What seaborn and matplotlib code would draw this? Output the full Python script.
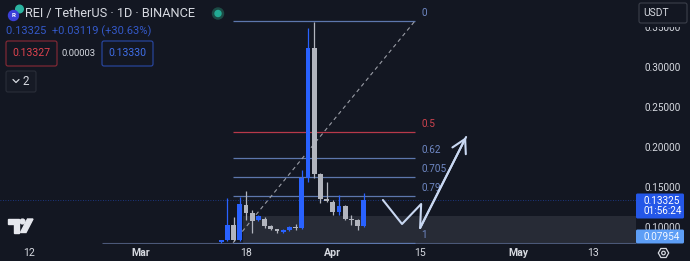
import numpy as np
import pandas as pd
import matplotlib
matplotlib.use("Agg")
import matplotlib.pyplot as plt
import matplotlib.dates as mdates
import seaborn as sns
from matplotlib.patches import FancyBboxPatch, Circle, Polygon, Rectangle, RegularPolygon

# ---------------- data ----------------
dates = pd.date_range("2024-03-14", periods=24, freq="D")
opens  = [0.0815, 0.0835, 0.1025, 0.0838, 0.1275, 0.1175, 0.1088, 0.1100, 0.1013, 0.0975, 0.0938, 0.0963,
          0.1000, 0.0988, 0.1613, 0.3241, 0.1663, 0.1350, 0.1313, 0.1188, 0.1263, 0.1100, 0.1088, 0.1013]
highs  = [0.0840, 0.1362, 0.1125, 0.1375, 0.1450, 0.1213, 0.1150, 0.1125, 0.1025, 0.0980, 0.0970, 0.1010,
          0.1038, 0.1713, 0.3490, 0.3566, 0.1675, 0.1563, 0.1338, 0.1400, 0.1275, 0.1150, 0.1100, 0.1425]
lows   = [0.0805, 0.0830, 0.0825, 0.0830, 0.1088, 0.0925, 0.1070, 0.0988, 0.0963, 0.0925, 0.0930, 0.0955,
          0.0963, 0.0975, 0.1563, 0.1613, 0.1300, 0.1313, 0.1150, 0.1150, 0.1088, 0.1025, 0.0963, 0.1000]
closes = [0.0835, 0.1025, 0.0838, 0.1288, 0.1175, 0.1075, 0.1138, 0.1013, 0.0975, 0.0945, 0.0963, 0.1000,
          0.0988, 0.1613, 0.3241, 0.1663, 0.1350, 0.1325, 0.1188, 0.1263, 0.1100, 0.1088, 0.1013, 0.13325]

fib_levels = [0, 0.5, 0.62, 0.705, 0.79, 1]
fib_labels = ["0", "0.5", "0.62", "0.705", "0.79", "1"]
fib_high, fib_low = 0.3575, 0.0804
fib_start, fib_end = "2024-03-15 22:00", "2024-04-14 06:00"

path_dates = pd.to_datetime(["2024-04-09 02:00", "2024-04-12 04:00", "2024-04-15 06:00",
                             "2024-04-15 02:00", "2024-04-22 12:00"])
path_prices = [0.13375, 0.10375, 0.12875, 0.09875, 0.2125]

box_start, box_end = "2024-03-17 12:00", "2024-05-19 22:00"
box_low, box_high = 0.0804, 0.1138
line_start = "2024-02-23 18:00"
last_price = 0.13325

yticks = [0.10, 0.15, 0.20, 0.25, 0.30, 0.35]
xtick_dates = ["2024-02-12", "2024-03-01", "2024-03-18", "2024-04-01", "2024-04-15", "2024-05-01", "2024-05-13"]
xtick_labels = ["12", "Mar", "18", "Apr", "15", "May", "13"]
bold_labels = {"Mar", "Apr", "May"}

# ---------------- style ----------------
BG = "#131722"
UP = "#2962FF"
DOWN = "#b2b5be"
TXT = "#d6d9e0"
FIB = "#5d77ad"
FIBRED = "#b8394a"

sns.set_theme(style="dark", rc={"axes.facecolor": BG, "figure.facecolor": BG})
plt.rcParams["font.family"] = ["Roboto", "DejaVu Sans"]

fig = plt.figure(figsize=(6.9, 2.61), dpi=100)
ax = fig.add_axes([0, 17 / 261, 640 / 690, 244 / 261])
ax.set_facecolor(BG)

x_ref = mdates.date2num(pd.Timestamp("2024-03-18"))
ppd = 6.2
ax.set_xlim(x_ref - 246 / ppd, x_ref + (640 - 246) / ppd)
ax.set_ylim(0.07875, 0.38375)

# box & lines
bx0 = mdates.date2num(pd.Timestamp(box_start))
bx1 = mdates.date2num(pd.Timestamp(box_end))
ax.add_patch(Rectangle((bx0, box_low), bx1 - bx0, box_high - box_low,
                       facecolor="#2a2e39", edgecolor="none", alpha=0.9, zorder=1))
ax.hlines(box_low, mdates.date2num(pd.Timestamp(line_start)), bx1, color="#4b5878", lw=0.8, zorder=1.5)
ax.axhline(last_price, color=UP, lw=0.6, ls=(0, (1, 2)), alpha=0.55, zorder=1.2)

# fib
f0 = mdates.date2num(pd.Timestamp(fib_start))
f1 = mdates.date2num(pd.Timestamp(fib_end))
rng = fib_high - fib_low
for lvl, lab in zip(fib_levels, fib_labels):
    p = fib_high - lvl * rng
    col = FIBRED if lvl == 0.5 else FIB
    ax.hlines(p, f0, f1, color=col, lw=0.9, zorder=1.6)
    ax.annotate(lab, (f1, p), xytext=(4.5, 2.2), textcoords="offset points",
                color="#d0434f" if lvl == 0.5 else "#6f88c4", fontsize=7.2, va="bottom", ha="left")
ax.plot([f0, f1], [fib_low, fib_high], color="#9a9da6", lw=0.8, ls=(0, (3.5, 3)), zorder=1.7)

# candles
xs = mdates.date2num(dates)
cols = [UP if c >= o else DOWN for o, c in zip(opens, closes)]
ax.vlines(xs, lows, highs, colors=cols, lw=0.9, zorder=3)
lo_b = np.minimum(opens, closes)
hi_b = np.maximum(opens, closes)
h_b = np.maximum(hi_b - lo_b, 0.0012)
ax.bar(xs, h_b, bottom=lo_b, width=0.78, color=cols, edgecolor="none", zorder=4)

# arrow path
pdf = pd.DataFrame({"x": mdates.date2num(path_dates), "y": path_prices})
sns.lineplot(data=pdf, x="x", y="y", sort=False, color="#c9d8f2", lw=1.5, ax=ax, zorder=5)
ax.annotate("", xy=(pdf.x.iloc[-1], pdf.y.iloc[-1]), xytext=(pdf.x.iloc[-2], pdf.y.iloc[-2]),
            arrowprops=dict(arrowstyle="->,head_length=0.8,head_width=0.45", color="#c9d8f2", lw=1.5,
                            shrinkA=0, shrinkB=0), zorder=5)
ax.set_xlabel("")
ax.set_ylabel("")

# axes
ax.yaxis.tick_right()
ax.set_yticks(yticks)
ax.set_yticklabels([f"{v:.5f}" for v in yticks])
ax.set_xticks(mdates.date2num(pd.to_datetime(xtick_dates)))
ax.set_xticklabels(xtick_labels)
for t in ax.get_xticklabels():
    if t.get_text() in bold_labels:
        t.set_fontweight("bold")
ax.tick_params(axis="y", length=0, pad=3, labelcolor=TXT, labelsize=7.2)
ax.tick_params(axis="x", length=0, pad=3.0, labelcolor=TXT, labelsize=7.6)
for s in ax.spines.values():
    s.set_visible(False)
ax.grid(False)

# ---------------- overlay (UI) ----------------
ov = fig.add_axes([0, 0, 1, 1], zorder=10)
ov.set_xlim(0, 690)
ov.set_ylim(261, 0)
ov.axis("off")
ov.patch.set_alpha(0)

# logo
ov.add_patch(Circle((19.5, 9), 3.8, color="#2bb3a0"))
ov.add_patch(Circle((13.5, 15.5), 5, color="#3b40d8"))
ov.text(13.5, 15.8, "R", color="white", fontsize=4.5, ha="center", va="center", fontweight="bold")
ov.text(25, 14, "REI / TetherUS · 1D · BINANCE", color=TXT, fontsize=9.2, va="center", ha="left")
ov.add_patch(Circle((218, 13.5), 5.5, color="#1c4b45"))
ov.add_patch(Circle((218, 13.5), 3, color="#22ab94"))
ov.text(6, 31.5, "0.13325  +0.03119 (+30.63%)", color="#3459c9", fontsize=8.0, va="center", ha="left")

def rbox(x, y, w, h, ec, fc=BG, lw=0.8):
    ov.add_patch(FancyBboxPatch((x, y), w, h, boxstyle="round,pad=0,rounding_size=2",
                                facecolor=fc, edgecolor=ec, lw=lw))

rbox(6, 41, 51, 25, "#8a2a36")
ov.text(31.5, 53.5, "0.13327", color="#e0434f", fontsize=7.6, ha="center", va="center")
ov.text(79, 53.5, "0.00003", color=TXT, fontsize=6.8, ha="center", va="center")
rbox(102, 41, 51, 25, "#2a4aa8")
ov.text(127.5, 53.5, "0.13330", color="#3f6ee8", fontsize=7.6, ha="center", va="center")
rbox(6, 71, 30, 21, "#2a2e39", fc="#161a25")
ov.plot([13, 16, 19], [79.5, 82.5, 79.5], color=TXT, lw=0.9)
ov.text(26, 81.5, "2", color=TXT, fontsize=8.4, ha="center", va="center")

# USDT box (covers top of the 0.35 label)
ov.add_patch(Rectangle((638, 2), 50, 24.5, facecolor=BG, edgecolor="none"))
rbox(639, 3, 48, 20, "#3b3f4a")
ov.text(643, 13, "USDT", color=TXT, fontsize=7.4, ha="left", va="center")

# price labels
ov.add_patch(FancyBboxPatch((636, 193.5), 48, 25, boxstyle="round,pad=0,rounding_size=1.5",
                            facecolor="#2457e8", edgecolor="none"))
ov.text(643, 200.5, "0.13325", color="white", fontsize=7.2, ha="left", va="center")
ov.text(643, 211.5, "01:56:24", color="white", fontsize=7.2, ha="left", va="center")
ov.add_patch(FancyBboxPatch((636, 229.5), 48, 14, boxstyle="round,pad=0,rounding_size=1.5",
                            facecolor="#5d9ef6", edgecolor="none"))
ov.text(643, 236.5, "0.07954", color="#f0f6ff", fontsize=7.2, ha="left", va="center")

# gear icon
ov.add_patch(RegularPolygon((663.5, 253), 6, radius=5.2, orientation=np.pi / 6,
                            facecolor="none", edgecolor=TXT, lw=0.9))
ov.add_patch(Circle((663.5, 253), 1.8, facecolor="none", edgecolor=TXT, lw=0.9))

# TradingView logo
ov.add_patch(Polygon([(8, 219), (19, 219), (19, 232.5), (14, 232.5), (14, 223.5), (8, 223.5)],
                     closed=True, color="#e6e8ee"))
ov.add_patch(Circle((22.5, 221.5), 2.4, color="#e6e8ee"))
ov.add_patch(Polygon([(20.5, 232.5), (27.5, 219), (33, 219), (26, 232.5)], closed=True, color="#e6e8ee"))

fig.savefig("out.png", dpi=100, facecolor=BG)
